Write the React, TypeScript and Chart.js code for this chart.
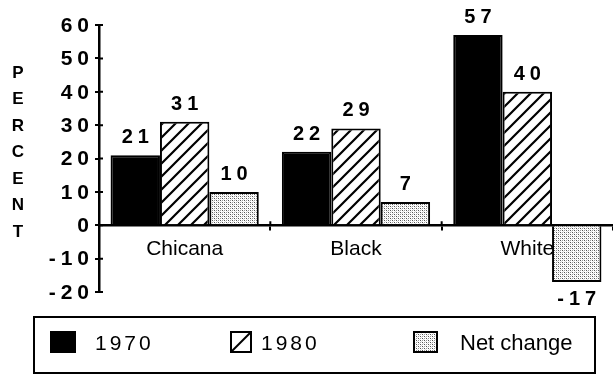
import React, { useEffect, useRef } from "react";
import { Chart, registerables } from "chart.js";

Chart.register(...registerables);

const categories = ["Chicana", "Black", "White"];
const seriesLabels = ["1970", "1980", "Net change"];
const values1970 = [21, 22, 57];
const values1980 = [31, 29, 40];
const valuesNet = [10, 7, -17];
const yMin = -20;
const yMax = 60;
const yStep = 10;
const yTitle = "PERCENT";

const FONT = '"Liberation Sans", Arial, Helvetica, sans-serif';

function makeHatch(): CanvasPattern | string {
  const c = document.createElement("canvas");
  c.width = 13;
  c.height = 13;
  const g = c.getContext("2d");
  if (!g) return "#fff";
  g.fillStyle = "#fff";
  g.fillRect(0, 0, 13, 13);
  g.strokeStyle = "#000";
  g.lineWidth = 2.2;
  g.beginPath();
  g.moveTo(-1, 14);
  g.lineTo(14, -1);
  g.moveTo(-7, 7);
  g.lineTo(7, -7);
  g.moveTo(6, 20);
  g.lineTo(20, 6);
  g.stroke();
  return g.createPattern(c, "repeat") || "#fff";
}

function makeDots(): CanvasPattern | string {
  const c = document.createElement("canvas");
  c.width = 4;
  c.height = 4;
  const g = c.getContext("2d");
  if (!g) return "#ccc";
  g.fillStyle = "#fff";
  g.fillRect(0, 0, 4, 4);
  g.fillStyle = "#555";
  g.fillRect(0, 0, 1, 1);
  g.fillRect(2, 2, 1, 1);
  g.fillStyle = "#999";
  g.fillRect(2, 0, 1, 1);
  g.fillRect(0, 2, 1, 1);
  g.fillStyle = "#ddd";
  g.fillRect(1, 1, 1, 1);
  g.fillRect(3, 3, 1, 1);
  return g.createPattern(c, "repeat") || "#ccc";
}

const isNumeric = (s: string) => /^-?\d+$/.test(s);

export default function App() {
  const ref = useRef<HTMLCanvasElement | null>(null);

  useEffect(() => {
    document.body.style.margin = "0";
    const canvas = ref.current;
    if (!canvas) return;
    const hatch = makeHatch();
    const dots = makeDots();

    const valueLabels = {
      id: "valueLabels",
      afterDraw(chart: any) {
        const ctx = chart.ctx as any;
        ctx.save();
        ctx.font = `bold 20px ${FONT}`;
        ctx.letterSpacing = "5px";
        ctx.fillStyle = "#000";
        ctx.textAlign = "center";
        ctx.textBaseline = "alphabetic";
        chart.data.datasets.forEach((ds: any, i: number) => {
          const meta = chart.getDatasetMeta(i);
          meta.data.forEach((bar: any, j: number) => {
            const v = ds.data[j];
            const t = String(v);
            const y = v >= 0 ? bar.y - 12 : bar.y + 23;
            ctx.fillText(t, bar.x + 2.5, y);
          });
        });
        ctx.letterSpacing = "0px";
        ctx.restore();
      },
    };

    const axisDecor = {
      id: "axisDecor",
      afterDraw(chart: any) {
        const ctx = chart.ctx as any;
        const ys = chart.scales.y;
        const xs = chart.scales.x;
        const left = chart.chartArea.left;
        const zero = ys.getPixelForValue(0);
        ctx.save();
        ctx.strokeStyle = "#000";
        ctx.lineWidth = 2;
        ctx.beginPath();
        ys.ticks.forEach((tk: any) => {
          const p = ys.getPixelForValue(tk.value);
          ctx.moveTo(left, p);
          ctx.lineTo(left + 4, p);
        });
        for (let k = 1; k < categories.length; k++) {
          const p = (xs.getPixelForValue(k - 1) + xs.getPixelForValue(k)) / 2;
          ctx.moveTo(p, zero - 4);
          ctx.lineTo(p, zero);
        }
        ctx.stroke();

        // y tick labels (letter-spaced)
        ctx.font = `bold 21px ${FONT}`;
        ctx.letterSpacing = "5px";
        ctx.fillStyle = "#000";
        ctx.textAlign = "right";
        ctx.textBaseline = "middle";
        ys.ticks.forEach((tk: any) => {
          const p = ys.getPixelForValue(tk.value);
          ctx.fillText(String(tk.value), left - 5, p + 1);
        });
        ctx.letterSpacing = "0px";

        // stacked axis title
        ctx.font = `bold 17px ${FONT}`;
        ctx.textAlign = "center";
        ctx.textBaseline = "middle";
        const letters = yTitle.split("");
        const step = 26.5;
        const mid = (chart.chartArea.top + chart.chartArea.bottom) / 2 - 6;
        const start = mid - (step * (letters.length - 1)) / 2;
        letters.forEach((ch, i) => ctx.fillText(ch, 18, start + i * step));
        ctx.restore();
      },
    };

    const boxLegend = {
      id: "boxLegend",
      afterDraw(chart: any) {
        const ctx = chart.ctx as any;
        const W = chart.width;
        const boxL = 34, boxT = 317, boxR = W - 18, boxB = 373;
        ctx.save();
        ctx.strokeStyle = "#000";
        ctx.lineWidth = 2;
        ctx.strokeRect(boxL, boxT, boxR - boxL, boxB - boxT);
        const items = [
          { sx: 51, sw: 24, tx: 95 },
          { sx: 231, sw: 20, tx: 261 },
          { sx: 414, sw: 23, tx: 460 },
        ];
        const cy = 342;
        chart.data.datasets.forEach((ds: any, i: number) => {
          const it = items[i];
          const sh = 20;
          const sy = cy - sh / 2;
          ctx.fillStyle = i === 1 ? "#fff" : ds.backgroundColor;
          ctx.fillRect(it.sx, sy, it.sw, sh);
          ctx.lineWidth = 2;
          ctx.strokeStyle = "#000";
          ctx.strokeRect(it.sx, sy, it.sw, sh);
          if (i === 1) {
            ctx.beginPath();
            ctx.moveTo(it.sx + 1, sy + sh - 1);
            ctx.lineTo(it.sx + it.sw - 1, sy + 1);
            ctx.stroke();
          }
          ctx.fillStyle = "#000";
          const label = ds.label as string;
          const numeric = isNumeric(label);
          ctx.font = `${numeric ? 21 : 22}px ${FONT}`;
          ctx.letterSpacing = numeric ? "3px" : "0px";
          ctx.textAlign = "left";
          ctx.textBaseline = "alphabetic";
          ctx.fillText(label, it.tx, cy + 8);
        });
        ctx.letterSpacing = "0px";
        ctx.restore();
      },
    };

    const chart = new Chart(canvas, {
      type: "bar",
      data: {
        labels: categories,
        datasets: [
          {
            label: seriesLabels[0],
            data: values1970,
            backgroundColor: "#000",
            borderColor: "#000",
            borderWidth: 2,
          },
          {
            label: seriesLabels[1],
            data: values1980,
            backgroundColor: hatch as any,
            borderColor: "#000",
            borderWidth: 2,
          },
          {
            label: seriesLabels[2],
            data: valuesNet,
            backgroundColor: dots as any,
            borderColor: "#000",
            borderWidth: 2,
          },
        ],
      },
      options: {
        responsive: false,
        animation: false,
        layout: { padding: { left: 0, top: 25, right: 0, bottom: 83 } },
        categoryPercentage: 0.865,
        barPercentage: 1,
        plugins: {
          legend: { display: false },
          tooltip: { enabled: false },
          title: { display: false },
        },
        scales: {
          x: {
            type: "category",
            position: { y: 0 } as any,
            offset: true,
            z: 1,
            grid: {
              offset: true,
              drawOnChartArea: false,
              tickLength: 4,
              color: "#000",
              lineWidth: 2,
            },
            border: { color: "#000", width: 2.5 },
            ticks: {
              color: "#000",
              font: { family: FONT, size: 21 },
              padding: 7,
              maxRotation: 0,
              autoSkip: false,
            },
          },
          y: {
            min: yMin,
            max: yMax,
            grid: {
              drawOnChartArea: false,
              tickLength: 4,
              color: "#000",
              lineWidth: 2,
            },
            border: { color: "#000", width: 2.5 },
            ticks: {
              stepSize: yStep,
              display: false,
            },
            afterFit(scale: any) {
              scale.width = 99;
            },
          },
        },
      },
      plugins: [valueLabels, axisDecor, boxLegend],
    });

    return () => chart.destroy();
  }, []);

  return (
    <div style={{ width: 613, height: 375, background: "#fff" }}>
      <canvas ref={ref} width={613} height={375} />
    </div>
  );
}
